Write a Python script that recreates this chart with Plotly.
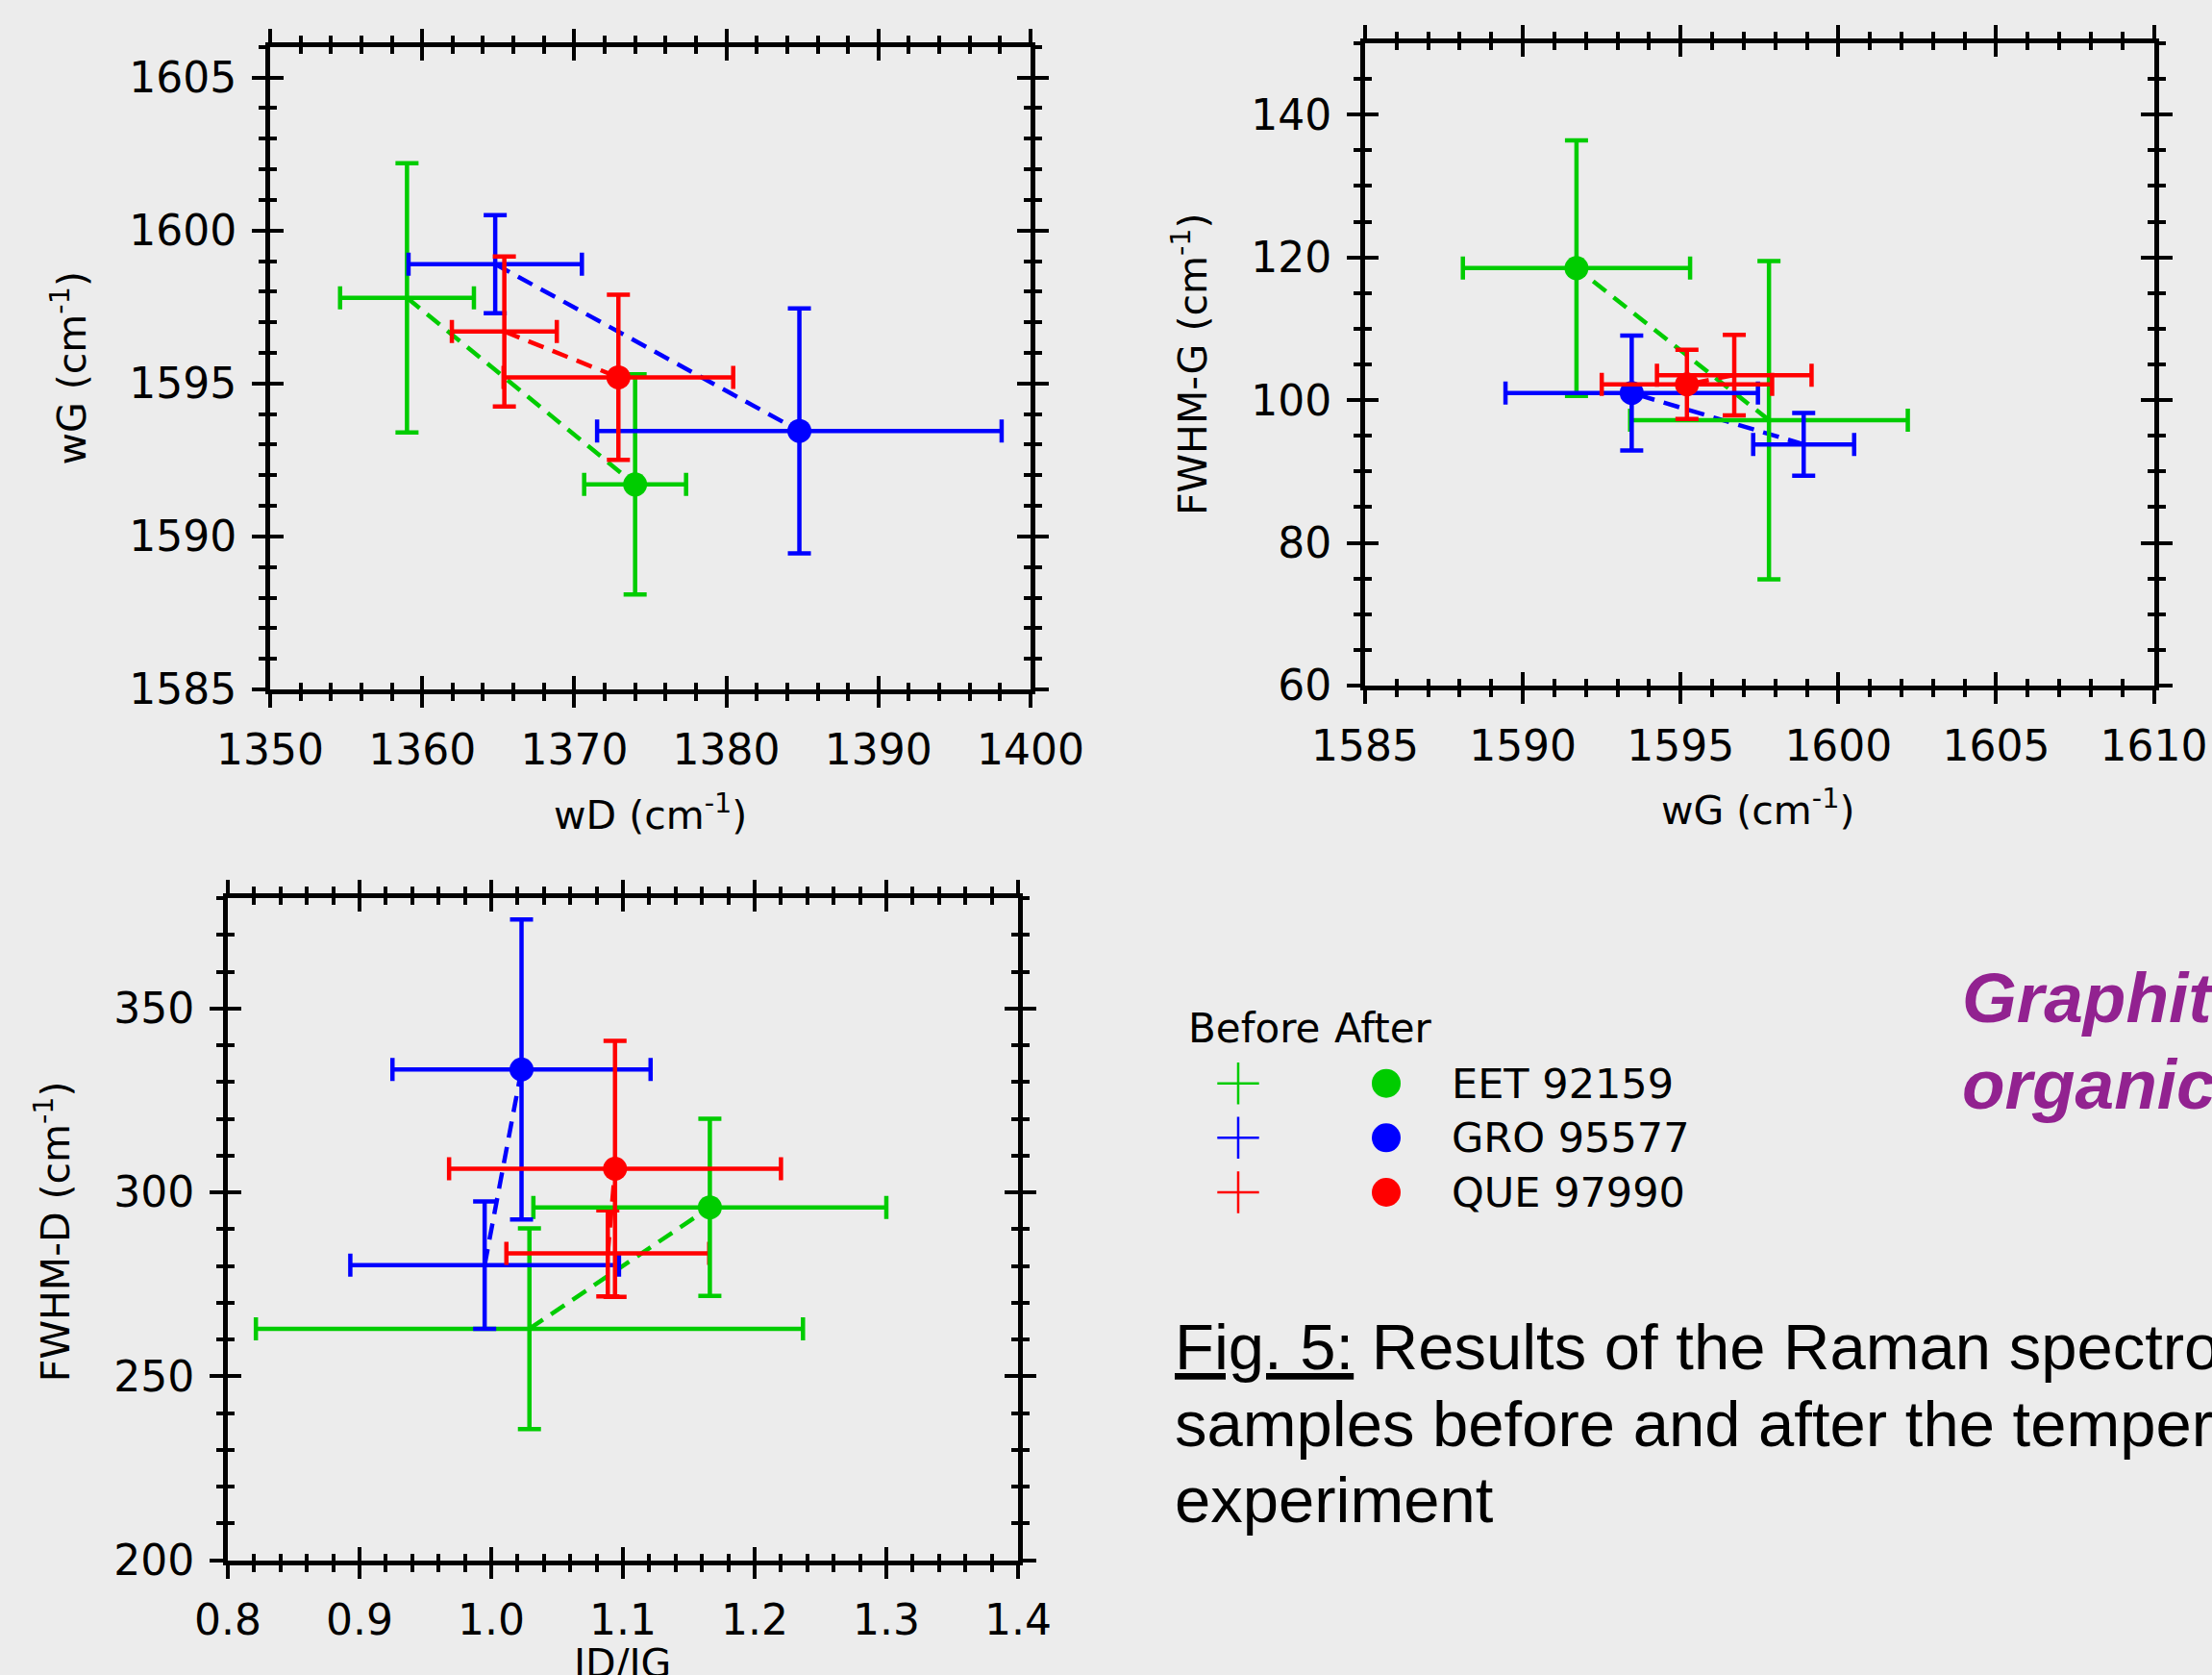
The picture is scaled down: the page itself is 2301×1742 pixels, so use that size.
import plotly.graph_objects as go

W, H = 2301, 1742

# ---------------- data ----------------
samples = ["EET 92159", "GRO 95577", "QUE 97990"]
colors = ["#00CC00", "#0000FF", "#FF0000"]

wD_before = [1359.0, 1364.8, 1365.4]
wD_before_err = [4.4, 5.7, 3.45]
wD_after = [1374.0, 1384.8, 1372.9]
wD_after_err = [3.35, 13.3, 7.55]

wG_before = [1597.8, 1598.9, 1596.7]
wG_before_err = [4.4, 1.6, 2.45]
wG_after = [1591.7, 1593.45, 1595.2]
wG_after_err = [3.6, 4.0, 2.7]

fwhmG_before = [97.2, 93.8, 103.5]
fwhmG_before_err = [22.3, 4.4, 5.65]
fwhmG_after = [118.5, 101.0, 102.2]
fwhmG_after_err = [17.9, 8.05, 4.85]

idig_before = [1.029, 0.995, 1.0885]
idig_before_err = [0.2077, 0.102, 0.077]
idig_after = [1.166, 1.023, 1.094]
idig_after_err = [0.134, 0.098, 0.126]

fwhmD_before = [262.9, 280.2, 283.4]
fwhmD_before_err = [27.3, 17.3, 11.7]
fwhmD_after = [295.9, 333.4, 306.4]
fwhmD_after_err = [24.1, 40.8, 34.8]

# ---------------- layout helpers ----------------
def dx(a, b):
    return [a / W, b / W]

def dy(top, bottom):
    return [1 - bottom / H, 1 - top / H]

TICKFONT = dict(family="DejaVu Sans", size=44, color="black")
TITLEFONT = dict(family="DejaVu Sans", size=41, color="black")

panels = [
    dict(n=1, xdom=dx(281, 1072), ydom=dy(48.8, 717),
         xr=[1350, 1400], xdt=10, xmd=2, xfmt="d",
         yr=[1585, 1606], ydt=5, ymd=1,
         xb=wD_before, xbe=wD_before_err, xa=wD_after, xae=wD_after_err,
         yb=wG_before, ybe=wG_before_err, ya=wG_after, yae=wG_after_err),
    dict(n=2, xdom=dx(1420, 2240.6), ydom=dy(45, 713),
         xr=[1585, 1610], xdt=5, xmd=1, xfmt="d",
         yr=[60, 150], ydt=20, ymd=5,
         xb=wG_before, xbe=wG_before_err, xa=wG_after, xae=wG_after_err,
         yb=fwhmG_before, ybe=fwhmG_before_err, ya=fwhmG_after, yae=fwhmG_after_err),
    dict(n=3, xdom=dx(237, 1059), ydom=dy(934, 1622.5),
         xr=[0.8, 1.4], xdt=0.1, xmd=0.02, xfmt=".1f",
         yr=[200, 380], ydt=50, ymd=10,
         xb=idig_before, xbe=idig_before_err, xa=idig_after, xae=idig_after_err,
         yb=fwhmD_before, ybe=fwhmD_before_err, ya=fwhmD_after, yae=fwhmD_after_err),
]

fig = go.Figure()
layout = dict(
    template="none",
    width=W, height=H, margin=dict(l=0, r=0, t=0, b=0, pad=0, autoexpand=False),
    paper_bgcolor="#ececec", plot_bgcolor="rgba(0,0,0,0)",
    showlegend=False,
)

LW = 5
TW = 4
TL = 14
MTL = 7
ERR_T = 4.5
ERR_W = 12

for p in panels:
    n = p["n"]
    xo, yo = n + 3, n + 3
    xname, yname = "x%d" % n, "y%d" % n
    common_x = dict(range=p["xr"], tick0=p["xr"][0], dtick=p["xdt"], showgrid=False,
                    zeroline=False, showline=True, linewidth=LW, linecolor="black",
                    tickwidth=TW, ticklen=TL, tickcolor="black", mirror="ticks",
                    automargin=False, fixedrange=True)
    common_y = dict(range=p["yr"], tick0=p["yr"][0], dtick=p["ydt"], showgrid=False,
                    zeroline=False, showline=True, linewidth=LW, linecolor="black",
                    tickwidth=TW, ticklen=TL, tickcolor="black", mirror="ticks",
                    automargin=False, fixedrange=True)
    layout["xaxis%d" % n] = dict(
        common_x, domain=p["xdom"], anchor=yname, ticks="outside",
        tickfont=TICKFONT, ticklabelstandoff=6, tickformat=p["xfmt"],
        minor=dict(ticks="outside", ticklen=MTL, tickwidth=TW, tickcolor="black",
                   dtick=p["xmd"], tick0=p["xr"][0], showgrid=False))
    layout["yaxis%d" % n] = dict(
        common_y, domain=p["ydom"], anchor=xname, ticks="outside",
        tickfont=TICKFONT, ticklabelstandoff=7, tickformat="d",
        minor=dict(ticks="outside", ticklen=MTL, tickwidth=TW, tickcolor="black",
                   dtick=p["ymd"], tick0=p["yr"][0], showgrid=False))
    # overlay axes: inward ticks so that every tick crosses the frame
    layout["xaxis%d" % xo] = dict(
        common_x, overlaying=xname, anchor=yname, side="bottom", ticks="inside",
        showticklabels=False,
        minor=dict(ticks="inside", ticklen=MTL, tickwidth=TW, tickcolor="black",
                   dtick=p["xmd"], tick0=p["xr"][0], showgrid=False))
    layout["yaxis%d" % yo] = dict(
        common_y, overlaying=yname, anchor=xname, side="left", ticks="inside",
        showticklabels=False,
        minor=dict(ticks="inside", ticklen=MTL, tickwidth=TW, tickcolor="black",
                   dtick=p["ymd"], tick0=p["yr"][0], showgrid=False))
    fig.add_trace(go.Scatter(x=[p["xr"][0]], y=[p["yr"][0]], mode="markers",
                             marker=dict(opacity=0, size=1), hoverinfo="skip",
                             xaxis="x%d" % xo, yaxis="y%d" % yo))

    # dashed connectors
    for i in range(3):
        fig.add_trace(go.Scatter(
            x=[p["xb"][i], p["xa"][i]], y=[p["yb"][i], p["ya"][i]], mode="lines",
            line=dict(color=colors[i], width=4.5, dash="17px,10px"),
            hoverinfo="skip", xaxis=xname, yaxis=yname))
    # before: error-bar crosses
    for i in range(3):
        fig.add_trace(go.Scatter(
            x=[p["xb"][i]], y=[p["yb"][i]], mode="markers",
            marker=dict(size=1, opacity=0, color=colors[i]),
            error_x=dict(type="data", array=[p["xbe"][i]], color=colors[i],
                         thickness=ERR_T, width=ERR_W),
            error_y=dict(type="data", array=[p["ybe"][i]], color=colors[i],
                         thickness=ERR_T, width=ERR_W),
            name=samples[i] + " before", xaxis=xname, yaxis=yname))
    # after: filled dots
    for i in range(3):
        fig.add_trace(go.Scatter(
            x=[p["xa"][i]], y=[p["ya"][i]], mode="markers",
            marker=dict(size=25, color=colors[i], symbol="circle"),
            error_x=dict(type="data", array=[p["xae"][i]], color=colors[i],
                         thickness=ERR_T, width=ERR_W),
            error_y=dict(type="data", array=[p["yae"][i]], color=colors[i],
                         thickness=ERR_T, width=ERR_W),
            name=samples[i] + " after", xaxis=xname, yaxis=yname))

# pixel-coordinate axes for legend & text
layout["xaxis7"] = dict(domain=[0, 1], range=[0, W], visible=False, anchor="y7",
                        fixedrange=True, automargin=False)
layout["yaxis7"] = dict(domain=[0, 1], range=[H, 0], visible=False, anchor="x7",
                        fixedrange=True, automargin=False)

leg_rows = [1126.7, 1183.3, 1240.0]
fig.add_trace(go.Scatter(
    x=[1288] * 3, y=leg_rows, mode="markers",
    marker=dict(symbol="cross-thin", size=31, line=dict(width=2.5, color=colors)),
    hoverinfo="skip", xaxis="x7", yaxis="y7"))
fig.add_trace(go.Scatter(
    x=[1442] * 3, y=leg_rows, mode="markers",
    marker=dict(symbol="circle", size=30, color=colors),
    hoverinfo="skip", xaxis="x7", yaxis="y7"))

ann = []

def A(text, x, y, font, xanchor="left", yanchor="middle", angle=0):
    ann.append(dict(text=text, x=x, y=y, xref="x7", yref="y7", showarrow=False,
                    xanchor=xanchor, yanchor=yanchor, font=font, textangle=angle,
                    borderpad=0, borderwidth=0))

# axis titles
A("wD (cm<sup>-1</sup>)", 676, 872, TITLEFONT, "center", "bottom")
A("wG (cm<sup>-1</sup>)", 1828, 867, TITLEFONT, "center", "bottom")
A("ID/IG", 647, 1706, TITLEFONT, "center", "top")
A("wG (cm<sup>-1</sup>)", 71, 383.5, TITLEFONT, "center", "middle", -90)
A("FWHM-G (cm<sup>-1</sup>)", 1238, 379, TITLEFONT, "center", "middle", -90)
A("FWHM-D (cm<sup>-1</sup>)", 54.5, 1280.7, TITLEFONT, "center", "middle", -90)

# legend text
LEGFONT = dict(family="DejaVu Sans", size=42, color="black")
A("Before", 1236, 1069.5, LEGFONT)
A("After", 1388, 1069.5, LEGFONT)
for i in range(3):
    A(samples[i], 1510, leg_rows[i], dict(TICKFONT, size=43))

# side heading (cut at the right edge of the picture)
PURPLE = dict(family="Liberation Sans", size=73, color="#922290")
A("<b><i>Graphit</i></b>", 2041, 1037.7, PURPLE)
A("<b><i>organic</i></b>", 2041, 1127.7, PURPLE)

# caption
CAP = dict(family="Liberation Sans", size=67, color="black")
A("<u>Fig. 5:</u> Results of the Raman spectro", 1222, 1400, CAP)
A("samples before and after the temper", 1222, 1480, CAP)
A("experiment", 1222, 1559, CAP)

layout["annotations"] = ann
fig.update_layout(**layout)

fig.write_html("out.html")
